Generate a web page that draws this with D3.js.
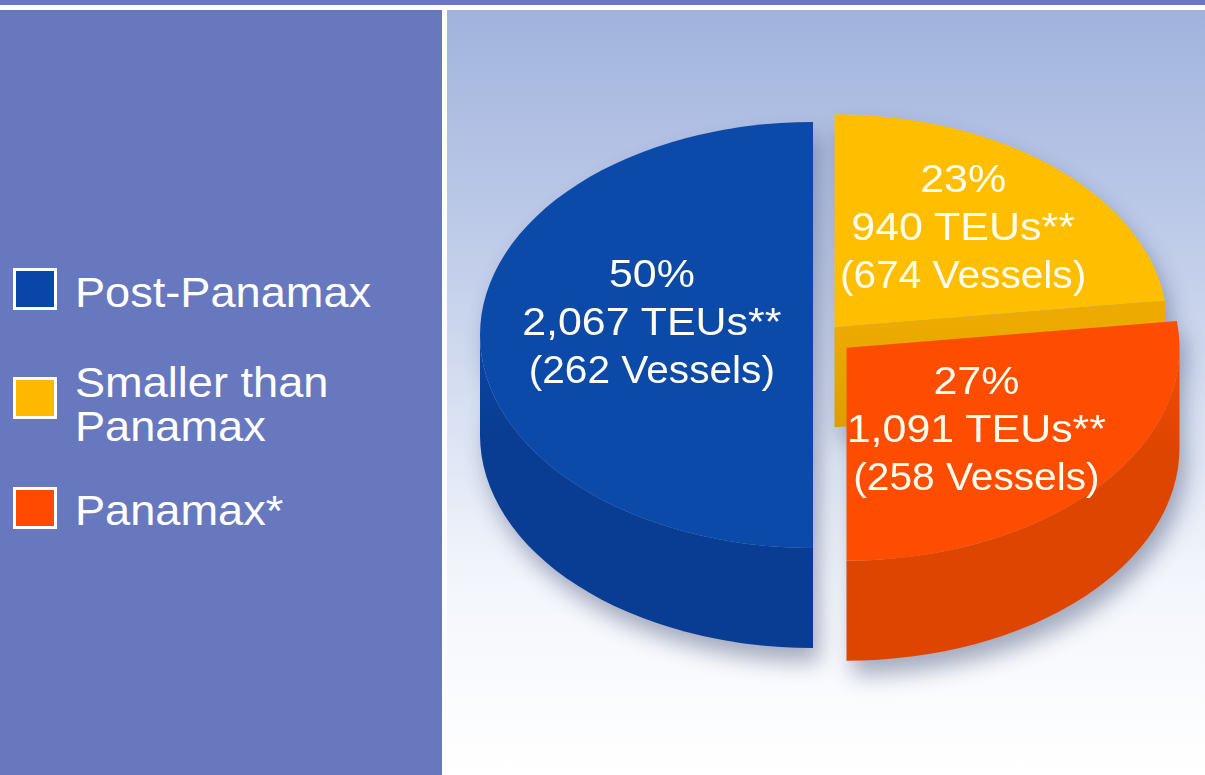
<!DOCTYPE html>
<html>
<head>
<meta charset="utf-8">
<script src="https://cdn.jsdelivr.net/npm/d3@7/dist/d3.min.js"></script>
<style>
  html, body { margin: 0; padding: 0; background: #ffffff; }
  svg { display: block; }
  text { font-family: "Liberation Sans", Arial, Helvetica, sans-serif; }
</style>
</head>
<body>
<svg id="chart" width="1205" height="775"></svg>
<script>
// ---------------- DATA ----------------
const categories   = ["Post-Panamax", "Smaller than Panamax", "Panamax*"];
const legendLabels = [["Post-Panamax"], ["Smaller than", "Panamax"], ["Panamax*"]];
const shares       = [50, 23, 27];               // percent of capacity
const teus         = ["2,067", "940", "1,091"];  // TEUs**
const vessels      = [262, 674, 258];            // number of vessels

// ---------------- STYLE / LAYOUT ----------------
const W = 1205, H = 775;
const topColor   = ["#0C4AAA", "#FFBF00", "#FF4D00"];
const wallTop    = ["#0B46A4", "#EDAA00", "#F54C00"];
const wallBottom = ["#093D94", "#DC9E00", "#DE4500"];
const legendFill = ["#0A45A9", "#FFB800", "#FF4A00"];

const pieCenter = [824, 335];
const rx = 333, ry = 213, depth = 100;
const explode = [11, 16, 30];
const kx = 0.52, ky = 0.6;
const labelNudge = [[12, -13], [14, -4], [0, -3]];
const lineStretch = [1.13, 1.13, 1.07];

const svg = d3.select("#chart");
const defs = svg.append("defs");

// background gradient of right panel
const bg = defs.append("linearGradient").attr("id", "bgGrad")
  .attr("x1", 0).attr("y1", 0).attr("x2", 0).attr("y2", 1);
bg.append("stop").attr("offset", "0%").attr("stop-color", "#A1B3DD");
bg.append("stop").attr("offset", "35%").attr("stop-color", "#C4D0EB");
bg.append("stop").attr("offset", "75%").attr("stop-color", "#F3F6FC");
bg.append("stop").attr("offset", "100%").attr("stop-color", "#FFFFFF");

// wall gradients
categories.forEach((c, i) => {
  const g = defs.append("linearGradient").attr("id", "wall" + i)
    .attr("gradientUnits", "userSpaceOnUse")
    .attr("x1", 0).attr("y1", 0).attr("x2", 0).attr("y2", depth * rx / ry);
  g.append("stop").attr("offset", "0%").attr("stop-color", wallTop[i]);
  g.append("stop").attr("offset", "100%").attr("stop-color", wallBottom[i]);
});

// shadow filter
const f = defs.append("filter").attr("id", "shadow")
  .attr("x", "-20%").attr("y", "-20%").attr("width", "140%").attr("height", "140%");
f.append("feGaussianBlur").attr("stdDeviation", 11);

// ---------------- PANELS ----------------
svg.append("rect").attr("x", 0).attr("y", 0).attr("width", W).attr("height", H).attr("fill", "#ffffff");
svg.append("rect").attr("x", 0).attr("y", 0).attr("width", W).attr("height", 5).attr("fill", "#6A79BE");
svg.append("rect").attr("x", 0).attr("y", 10).attr("width", 442).attr("height", H - 10).attr("fill", "#6878BE");
svg.append("rect").attr("x", 447).attr("y", 10).attr("width", W - 447).attr("height", H - 10).attr("fill", "url(#bgGrad)");

// ---------------- LEGEND ----------------
const legendRows = [{ sq: 271, base: [307] }, { sq: 380, base: [397, 441] }, { sq: 490, base: [525] }];
const lg = svg.append("g");
categories.forEach((c, i) => {
  const row = legendRows[i];
  lg.append("rect")
    .attr("x", 14.5).attr("y", row.sq - 1.5).attr("width", 41).attr("height", 39)
    .attr("fill", legendFill[i]).attr("stroke", "#ffffff").attr("stroke-width", 3);
  legendLabels[i].forEach((line, j) => {
    lg.append("text")
      .attr("transform", `translate(75,${row.base[j]}) scale(1.05,1)`)
      .attr("font-size", 43).attr("fill", "#ffffff")
      .text(line);
  });
});

// ---------------- PIE ----------------
const data = categories.map((c, i) => ({ i, name: c, share: shares[i] }));
const pie = d3.pie().sort(null).value(d => d.share)
  .startAngle(Math.PI).endAngle(3 * Math.PI);
const arcsData = pie(data);

const s = ry / rx;            // vertical squash
const dPre = depth / s;       // depth in pre-scaled coordinates
const topArc = d3.arc().innerRadius(0).outerRadius(rx);

arcsData.forEach(a => {
  const mid = (a.startAngle + a.endAngle) / 2;
  const e = explode[a.data.i];
  a.cx = pieCenter[0] + e * Math.sin(mid);
  a.cy = pieCenter[1] - e * Math.cos(mid) * s;
  a.mid = mid;
  a.depthKey = -Math.cos(mid);
});

function wallPath(s0, s1) {
  const p = d3.path();
  p.moveTo(rx * Math.sin(s0), -rx * Math.cos(s0));
  p.arc(0, 0, rx, s0 - Math.PI / 2, s1 - Math.PI / 2, false);
  p.lineTo(rx * Math.sin(s1), -rx * Math.cos(s1) + dPre);
  p.arc(0, dPre, rx, s1 - Math.PI / 2, s0 - Math.PI / 2, true);
  p.closePath();
  return p.toString();
}
function cutPath(ang) {
  const p = d3.path();
  p.moveTo(0, 0);
  p.lineTo(rx * Math.sin(ang), -rx * Math.cos(ang));
  p.lineTo(rx * Math.sin(ang), -rx * Math.cos(ang) + dPre);
  p.lineTo(0, dPre);
  p.closePath();
  return p.toString();
}
// front-facing angle windows within [PI, 3PI]
const frontWindows = [[Math.PI, 1.5 * Math.PI], [2.5 * Math.PI, 3 * Math.PI]];

const ordered = arcsData.slice().sort((a, b) => a.depthKey - b.depthKey);

// shadow
const shadowG = svg.append("g").attr("filter", "url(#shadow)").attr("opacity", 0.45);
ordered.forEach(a => {
  const g = shadowG.append("g").attr("transform", `translate(${a.cx + 6},${a.cy + 14}) scale(1,${s})`);
  g.append("path").attr("d", topArc(a)).attr("fill", "#3C4A6E");
  g.append("path").attr("d", wallPath(a.startAngle, a.endAngle)).attr("fill", "#3C4A6E");
  g.append("path").attr("d", cutPath(a.startAngle)).attr("fill", "#3C4A6E");
  g.append("path").attr("d", cutPath(a.endAngle)).attr("fill", "#3C4A6E");
});

// slices
const pieG = svg.append("g");
ordered.forEach(a => {
  const i = a.data.i;
  const g = pieG.append("g").attr("transform", `translate(${a.cx},${a.cy}) scale(1,${s})`);
  frontWindows.forEach(([w0, w1]) => {
    const s0 = Math.max(a.startAngle, w0), s1 = Math.min(a.endAngle, w1);
    if (s1 > s0 + 1e-6) {
      g.append("path").attr("d", wallPath(s0, s1)).attr("fill", `url(#wall${i})`);
    }
  });
  if (Math.sin(a.endAngle) > 1e-6) {
    g.append("path").attr("d", cutPath(a.endAngle)).attr("fill", `url(#wall${i})`);
  }
  if (Math.sin(a.startAngle) < -1e-6) {
    g.append("path").attr("d", cutPath(a.startAngle)).attr("fill", `url(#wall${i})`);
  }
  g.append("path").attr("d", topArc(a)).attr("fill", topColor[i]);
});

// labels
const labG = svg.append("g");
arcsData.forEach(a => {
  const i = a.data.i;
  const x = a.cx + kx * rx * Math.sin(a.mid) + labelNudge[i][0];
  const y = a.cy - ky * ry * Math.cos(a.mid) + labelNudge[i][1];
  const lines = [`${shares[i]}%`, `${teus[i]} TEUs**`, `(${vessels[i]} Vessels)`];
  lines.forEach((t, j) => {
    labG.append("text")
      .attr("transform", `translate(${x},${y + 13 + (j - 1) * 48}) scale(${lineStretch[j]},1)`)
      .attr("text-anchor", "middle")
      .attr("font-size", 38)
      .attr("fill", "#FFFDF0")
      .text(t);
  });
});
</script>
</body>
</html>
